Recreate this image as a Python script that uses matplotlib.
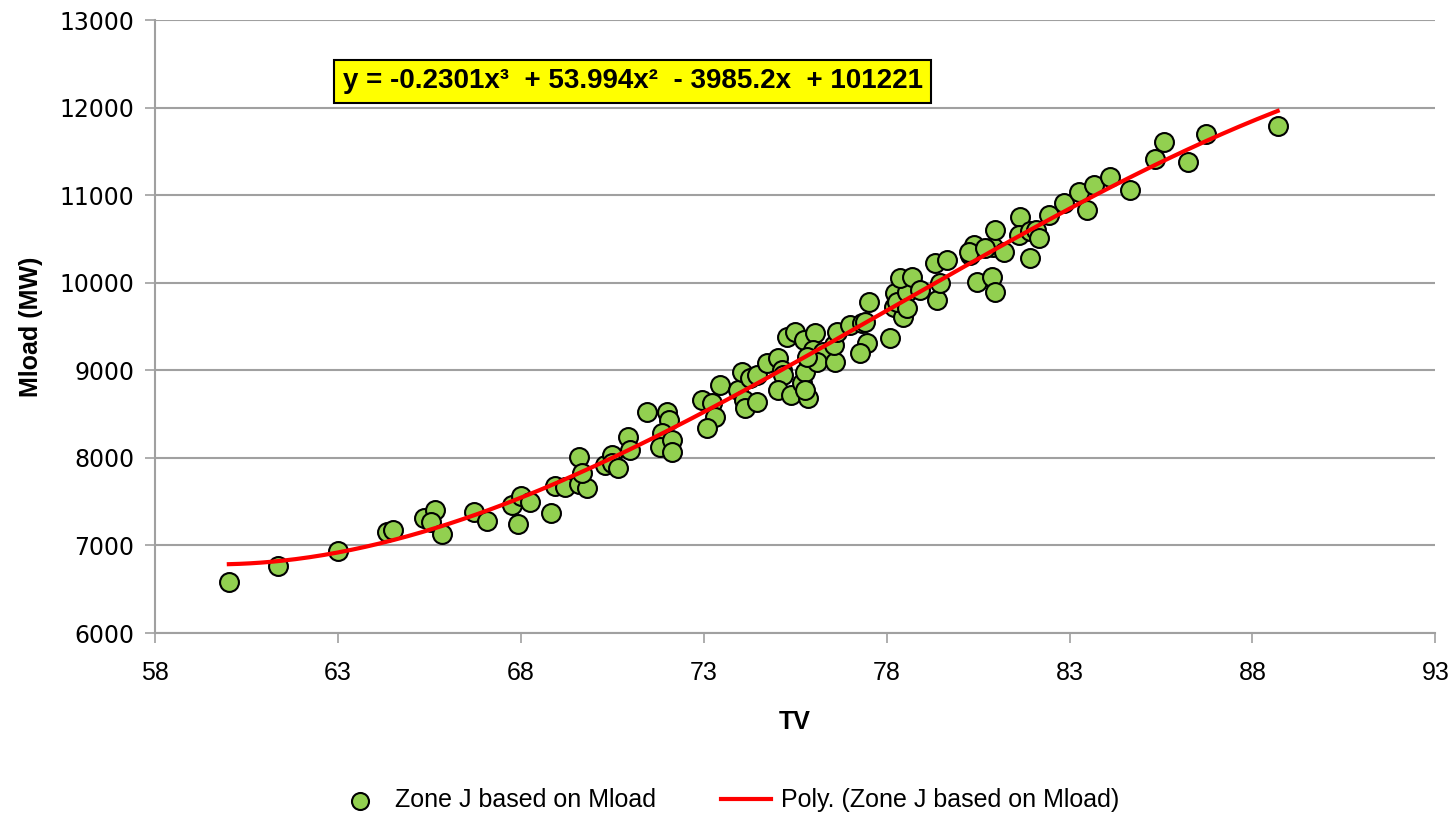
import numpy as np
import matplotlib.pyplot as plt

# TV vs Mload, Zone J
tv = [60.02, 61.36, 63.01, 64.34, 64.50, 65.36, 65.66, 65.55, 65.86, 66.72,
      67.07, 67.77, 68.01, 68.25, 67.92, 68.82, 68.94, 69.21, 69.58, 69.80,
      69.58, 69.67, 70.30, 70.49, 70.49, 70.67, 70.94, 70.99, 71.44, 71.99,
      72.04, 71.85, 71.81, 72.13, 72.13, 72.95, 73.22, 73.31, 73.09, 73.45,
      73.95, 74.04, 74.09, 74.13, 74.27, 74.45, 74.45, 74.72, 75.04, 75.13,
      75.18, 75.04, 75.40, 75.68, 75.77, 75.86, 75.77, 75.27, 75.50, 75.73,
      76.05, 76.00, 76.27, 76.09, 76.59, 76.55, 76.64, 77.00, 77.32, 77.41,
      77.46, 77.28, 78.10, 77.51, 75.82, 78.19, 78.46, 78.24, 78.28, 78.55,
      78.55, 78.37, 78.69, 78.92, 79.37, 79.47, 79.33, 79.65, 80.29, 80.29,
      80.38, 80.24, 80.47, 80.88, 80.97, 80.92, 81.20, 80.70, 80.97, 81.65,
      81.61, 81.93, 81.93, 82.07, 82.16, 82.43, 82.84, 83.25, 83.66, 83.48,
      84.10, 84.66, 85.34, 85.57, 86.24, 86.73, 88.69]
mload = [6580, 6770, 6940, 7157, 7176, 7310, 7405, 7271, 7131, 7385,
         7279, 7462, 7568, 7499, 7245, 7367, 7682, 7664, 7701, 7652,
         8013, 7823, 7918, 8033, 7938, 7881, 8242, 8090, 8527, 8527,
         8432, 8280, 8127, 8204, 8070, 8661, 8623, 8470, 8338, 8832,
         8775, 8984, 8661, 8566, 8908, 8642, 8946, 9080, 9137, 9003,
         8946, 8775, 8718, 8851, 8984, 8680, 8775, 9383, 9441, 9346,
         9422, 9232, 9212, 9098, 9098, 9289, 9441, 9517, 9536, 9555,
         9308, 9194, 9365, 9783, 9156, 9726, 9612, 9879, 9783, 9897,
         9708, 10050, 10069, 9917, 9803, 9993, 10221, 10259, 10316, 10335,
         10430, 10354, 10012, 10069, 9897, 10411, 10354, 10393, 10602, 10754,
         10545, 10278, 10590, 10602, 10507, 10773, 10906, 11039, 11116, 10830,
         11204, 11059, 11409, 11603, 11382, 11695, 11790]

# trendline coefficients as printed on the chart
coef = [-0.2301, 53.994, -3985.2, 101221]

sans = ['Liberation Sans', 'DejaVu Sans']

fig = plt.figure(figsize=(14.55, 8.17), dpi=100)
ax = fig.add_axes([0.1065, 0.2252, 0.88, 0.7503])

ax.scatter(tv, mload, s=185, color='#92D050', edgecolors='black',
           linewidths=1.5, zorder=3, label='Zone J based on Mload')

xs = np.linspace(min(tv), max(tv), 300)
ax.plot(xs, np.polyval(coef, xs), color='#FF0000', lw=3, zorder=4,
        label='Poly. (Zone J based on Mload)')

ax.set_xlim(58, 93)
ax.set_ylim(6000, 13000)
ax.set_xticks(np.arange(58, 94, 5))
ax.set_yticks(np.arange(6000, 13001, 1000))
ax.yaxis.grid(True, color='#A0A0A0', lw=1.5)
ax.set_axisbelow(True)
for s in ['top', 'right']:
    ax.spines[s].set_visible(False)
for s in ['left', 'bottom']:
    ax.spines[s].set_color('#A0A0A0')
    ax.spines[s].set_linewidth(1.5)
ax.tick_params(colors='#A0A0A0', length=7, width=1.2, labelcolor='black')
ax.tick_params(axis='y', labelsize=17, pad=8)
ax.tick_params(axis='x', labelsize=18, pad=13, labelfontfamily='Liberation Sans')

ax.set_xlabel('TV', fontsize=18, fontweight='bold', family=sans, labelpad=18)
ax.set_ylabel('Mload (MW)', fontsize=18, fontweight='bold', family=sans, labelpad=12)

ax.text(0.373, 0.90, 'y = -0.2301x³  + 53.994x²  - 3985.2x  + 101221',
        transform=ax.transAxes, ha='center', va='center', fontsize=20,
        fontweight='bold', family=sans,
        bbox=dict(boxstyle='square,pad=0.3', facecolor='#FFFF00',
                  edgecolor='black', lw=1.5))

fig.legend(loc='lower center', bbox_to_anchor=(0.5, -0.022), ncol=2,
           frameon=False, prop={'family': sans, 'size': 18},
           columnspacing=2.6, handlelength=2.0, handletextpad=0.4,
           markerscale=0.9)

fig.savefig('out.png', dpi=100)
